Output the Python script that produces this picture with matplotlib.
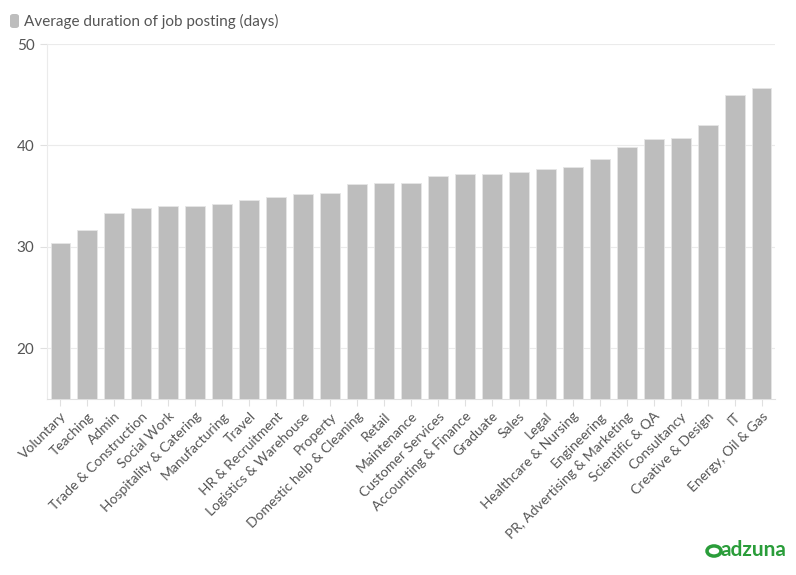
import matplotlib.pyplot as plt
from matplotlib.patches import FancyBboxPatch

categories = ['Voluntary', 'Teaching', 'Admin', 'Trade & Construction', 'Social Work',
              'Hospitality & Catering', 'Manufacturing', 'Travel', 'HR & Recruitment',
              'Logistics & Warehouse', 'Property', 'Domestic help & Cleaning', 'Retail',
              'Maintenance', 'Customer Services', 'Accounting & Finance', 'Graduate',
              'Sales', 'Legal', 'Healthcare & Nursing', 'Engineering',
              'PR, Advertising & Marketing', 'Scientific & QA', 'Consultancy',
              'Creative & Design', 'IT', 'Energy, Oil & Gas']
days = [30.4, 31.7, 33.3, 33.8, 34.0, 34.0, 34.2, 34.6, 34.9, 35.2, 35.3, 36.2, 36.3,
        36.3, 37.0, 37.2, 37.2, 37.4, 37.7, 37.9, 38.7, 39.8, 40.6, 40.7, 42.0, 45.0, 45.7]
yticks = [20, 30, 40, 50]

plt.rcParams['font.family'] = ['Lato', 'DejaVu Sans']
txt = '#555555'
bar_col = '#bdbdbd'
green = '#2a9d3a'

fig = plt.figure(figsize=(7.96, 5.75), dpi=100)
ax = fig.add_axes([47 / 796, 176 / 575, 728 / 796, 355 / 575])

x = range(len(categories))
ax.bar(x, days, width=0.74, color=bar_col, edgecolor='#e6e6e6', linewidth=0.6, zorder=3)
ax.set_xlim(-0.5, len(categories) - 0.5)
ax.set_ylim(15, 50)
ax.set_yticks(yticks)
ax.set_yticklabels([str(t) for t in yticks], color=txt, fontsize=11)
ax.set_xticks(list(x))
ax.set_xticklabels(categories, rotation=45, ha='right', rotation_mode='anchor',
                   color=txt, fontsize=10)
ax.grid(axis='y', color='#ebebeb', linewidth=0.8, zorder=0)
for s in ['top', 'right']:
    ax.spines[s].set_visible(False)
ax.spines['left'].set_color('#ebebeb')
ax.spines['bottom'].set_color('#e0e0e0')
ax.tick_params(axis='y', length=5, color='#e0e0e0', pad=4)
ax.tick_params(axis='x', length=5, color='#e0e0e0', pad=3)

# legend
fig.patches.append(FancyBboxPatch((10 / 796, 1 - 28 / 575), 9 / 796, 14 / 575,
                                  boxstyle='round,pad=0,rounding_size=0.004',
                                  transform=fig.transFigure, facecolor=bar_col,
                                  edgecolor='none'))
fig.text(24 / 796, 1 - 21 / 575, 'Average duration of job posting (days)',
         color=txt, fontsize=11, va='center', ha='left')

# logo
fig.text(786 / 796, 1 - 550 / 575, 'adzuna', color=green, fontsize=15,
         fontweight='bold', ha='right', va='center')
circ = plt.Circle((714 / 796, 1 - 551 / 575), 7 / 796, transform=fig.transFigure,
                  fill=False, edgecolor=green, linewidth=2.5)
fig.patches.append(circ)

fig.savefig('out.png', dpi=100)
